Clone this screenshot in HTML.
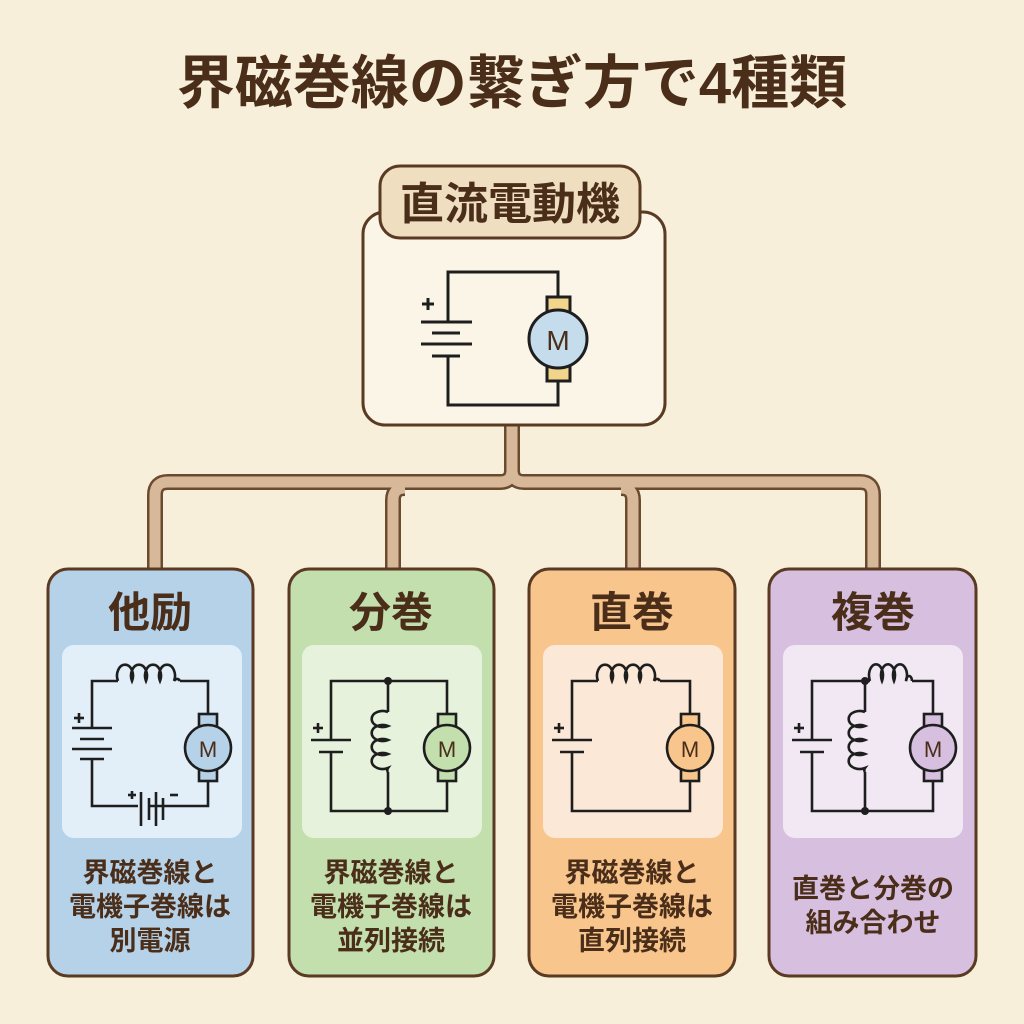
<!DOCTYPE html>
<html><head><meta charset="utf-8"><style>
body{margin:0;background:#f7efda;}
svg{display:block}
text{font-family:"Liberation Sans","Noto Sans CJK JP",sans-serif;font-weight:bold;fill:#4a2e1a;text-anchor:middle}
</style></head><body>
<svg width="1024" height="1024" viewBox="0 0 1024 1024" xmlns="http://www.w3.org/2000/svg">
<rect width="1024" height="1024" fill="#f7efda"/>
<text x="512" y="103" font-size="58">界磁巻線の繋ぎ方で4種類</text>

<g fill="none" stroke-linejoin="round">
<path d="M512 425 V470 Q512 482 500 482 H168 Q155 482 155 495 V570 M512 470 Q512 482 524 482 H860 Q873 482 873 495 V570 M393 570 V500 Q393 488 405 488 M633 570 V500 Q633 488 621 488" stroke="#6b4a30" stroke-width="16"/>
<path d="M512 425 V470 Q512 482 500 482 H168 Q155 482 155 495 V570 M512 470 Q512 482 524 482 H860 Q873 482 873 495 V570 M393 570 V500 Q393 488 405 488 M633 570 V500 Q633 488 621 488" stroke="#d7b99a" stroke-width="11"/>
</g>

<rect x="363" y="212" width="302" height="213" rx="22" fill="#fbf5e8" stroke="#5a3a22" stroke-width="3"/>
<rect x="380" y="166" width="260" height="72" rx="20" fill="#efdfc0" stroke="#5a3a22" stroke-width="3"/>
<text x="510" y="219" font-size="44">直流電動機</text>
<g stroke="#1e1e1e" stroke-width="3" fill="none">
<path d="M448 322 V272 H558 V298 M558 378 V405 H448 V356"/>
<line x1="421" y1="322" x2="472" y2="322"/><line x1="432" y1="333" x2="460" y2="333"/>
<line x1="421" y1="344" x2="472" y2="344"/><line x1="432" y1="356" x2="460" y2="356"/>
<line x1="422" y1="304" x2="434" y2="304"/><line x1="428" y1="298" x2="428" y2="310"/>
<rect x="547" y="297" width="23" height="15" fill="#f0d58a"/>
<rect x="547" y="366" width="23" height="15" fill="#f0d58a"/>
<circle cx="558" cy="339" r="29" fill="#c5dcec"/>
</g>
<text x="558" y="350" font-size="28" style="font-weight:normal" fill="#1e1e1e">M</text>

<g>
<rect x="48" y="569" width="205" height="407" rx="20" fill="#b6d2e8" stroke="#5a3a22" stroke-width="3"/>
<rect x="62" y="645" width="180" height="193" rx="12" fill="#e2eff8"/>
<text x="150" y="627" font-size="42">他励</text>
<text x="150" y="882" font-size="27">界磁巻線と</text>
<text x="150" y="916" font-size="27">電機子巻線は</text>
<text x="150" y="950" font-size="27">別電源</text>
<g stroke="#1e1e1e" stroke-width="2.6" fill="none">
<path d="M92 728 V681 H118 M180 681 H208 V718 M208 778 V806 H150 M138 806 H92 V758"/>
<path d="M118 681 a8 11 0 1 1 14 0 a8 11 0 1 1 14 0 a8 11 0 1 1 14 0 a8 11 0 1 1 14 0 a4 6 0 0 1 6 0"/>
<line x1="72" y1="728" x2="112" y2="728"/><line x1="80" y1="739" x2="104" y2="739"/>
<line x1="72" y1="749" x2="112" y2="749"/><line x1="80" y1="759" x2="104" y2="759"/>
<line x1="74" y1="718" x2="84" y2="718"/><line x1="79" y1="713" x2="79" y2="723"/>
<line x1="141" y1="792" x2="141" y2="826"/><line x1="149" y1="798" x2="149" y2="820"/>
<line x1="156" y1="792" x2="156" y2="826"/><line x1="163" y1="798" x2="163" y2="820"/>
<line x1="128" y1="795" x2="136" y2="795"/><line x1="132" y1="791" x2="132" y2="799"/>
<line x1="170" y1="795" x2="178" y2="795"/>
<rect x="199" y="714" width="18" height="14" fill="#b6d2e8"/><rect x="199" y="767" width="18" height="14" fill="#b6d2e8"/>
<circle cx="208" cy="748" r="23" fill="#b6d2e8"/>
</g>
<text x="208" y="757" font-size="22" style="font-weight:normal" fill="#1e1e1e">M</text>
</g>

<g>
<rect x="289" y="569" width="205" height="407" rx="20" fill="#c3dfad" stroke="#5a3a22" stroke-width="3"/>
<rect x="302" y="645" width="180" height="193" rx="12" fill="#e6f2dc"/>
<text x="391" y="627" font-size="42">分巻</text>
<text x="391" y="882" font-size="27">界磁巻線と</text>
<text x="391" y="916" font-size="27">電機子巻線は</text>
<text x="391" y="950" font-size="27">並列接続</text>
<g stroke="#1e1e1e" stroke-width="2.6" fill="none">
<path d="M331 740 V681 H447 V718 M447 778 V811 H331 V752 M388 681 V712 M388 772 V811"/>
<path d="M388 712 a11 8 0 1 0 0 14 a11 8 0 1 0 0 14 a11 8 0 1 0 0 14 a11 8 0 1 0 0 14 a5 4 0 0 0 0 4"/>
<line x1="311" y1="740" x2="351" y2="740"/><line x1="319" y1="752" x2="343" y2="752"/>
<line x1="313" y1="728" x2="323" y2="728"/><line x1="318" y1="723" x2="318" y2="733"/>
<rect x="438" y="714" width="18" height="14" fill="#c3dfad"/><rect x="438" y="767" width="18" height="14" fill="#c3dfad"/>
<circle cx="447" cy="748" r="23" fill="#c3dfad"/>
</g>
<circle cx="388" cy="681" r="4" fill="#1e1e1e"/><circle cx="388" cy="811" r="4" fill="#1e1e1e"/>
<text x="447" y="757" font-size="22" style="font-weight:normal" fill="#1e1e1e">M</text>
</g>

<g>
<rect x="529" y="569" width="206" height="407" rx="20" fill="#f8c58c" stroke="#5a3a22" stroke-width="3"/>
<rect x="543" y="645" width="180" height="193" rx="12" fill="#fbe8d6"/>
<text x="632" y="627" font-size="42">直巻</text>
<text x="632" y="882" font-size="27">界磁巻線と</text>
<text x="632" y="916" font-size="27">電機子巻線は</text>
<text x="632" y="950" font-size="27">直列接続</text>
<g stroke="#1e1e1e" stroke-width="2.6" fill="none">
<path d="M572 740 V681 H598 M660 681 H690 V718 M690 778 V811 H572 V752"/>
<path d="M598 681 a8 11 0 1 1 14 0 a8 11 0 1 1 14 0 a8 11 0 1 1 14 0 a8 11 0 1 1 14 0 a4 6 0 0 1 6 0"/>
<line x1="552" y1="740" x2="592" y2="740"/><line x1="560" y1="752" x2="584" y2="752"/>
<line x1="554" y1="728" x2="564" y2="728"/><line x1="559" y1="723" x2="559" y2="733"/>
<rect x="681" y="714" width="18" height="14" fill="#f8c58c"/><rect x="681" y="767" width="18" height="14" fill="#f8c58c"/>
<circle cx="690" cy="748" r="23" fill="#f8c58c"/>
</g>
<text x="690" y="757" font-size="22" style="font-weight:normal" fill="#1e1e1e">M</text>
</g>

<g>
<rect x="769" y="569" width="207" height="407" rx="20" fill="#d6bfdf" stroke="#5a3a22" stroke-width="3"/>
<rect x="783" y="645" width="180" height="193" rx="12" fill="#f1e8f4"/>
<text x="873" y="627" font-size="42">複巻</text>
<text x="873" y="898" font-size="27">直巻と分巻の</text>
<text x="873" y="932" font-size="27">組み合わせ</text>
<g stroke="#1e1e1e" stroke-width="2.6" fill="none">
<path d="M812 740 V681 H870 M912 681 H933 V718 M933 778 V811 H812 V752 M865 681 V712 M865 772 V811"/>
<path d="M870 681 a7 11 0 1 1 12 0 a7 11 0 1 1 12 0 a7 11 0 1 1 12 0 a3 5 0 0 1 6 0"/>
<path d="M865 712 a11 8 0 1 0 0 14 a11 8 0 1 0 0 14 a11 8 0 1 0 0 14 a11 8 0 1 0 0 14 a5 4 0 0 0 0 4"/>
<line x1="792" y1="740" x2="832" y2="740"/><line x1="800" y1="752" x2="824" y2="752"/>
<line x1="794" y1="728" x2="804" y2="728"/><line x1="799" y1="723" x2="799" y2="733"/>
<rect x="924" y="714" width="18" height="14" fill="#d6bfdf"/><rect x="924" y="767" width="18" height="14" fill="#d6bfdf"/>
<circle cx="933" cy="748" r="23" fill="#d6bfdf"/>
</g>
<circle cx="865" cy="681" r="4" fill="#1e1e1e"/><circle cx="865" cy="811" r="4" fill="#1e1e1e"/>
<text x="933" y="757" font-size="22" style="font-weight:normal" fill="#1e1e1e">M</text>
</g>
</svg>
</body></html>
